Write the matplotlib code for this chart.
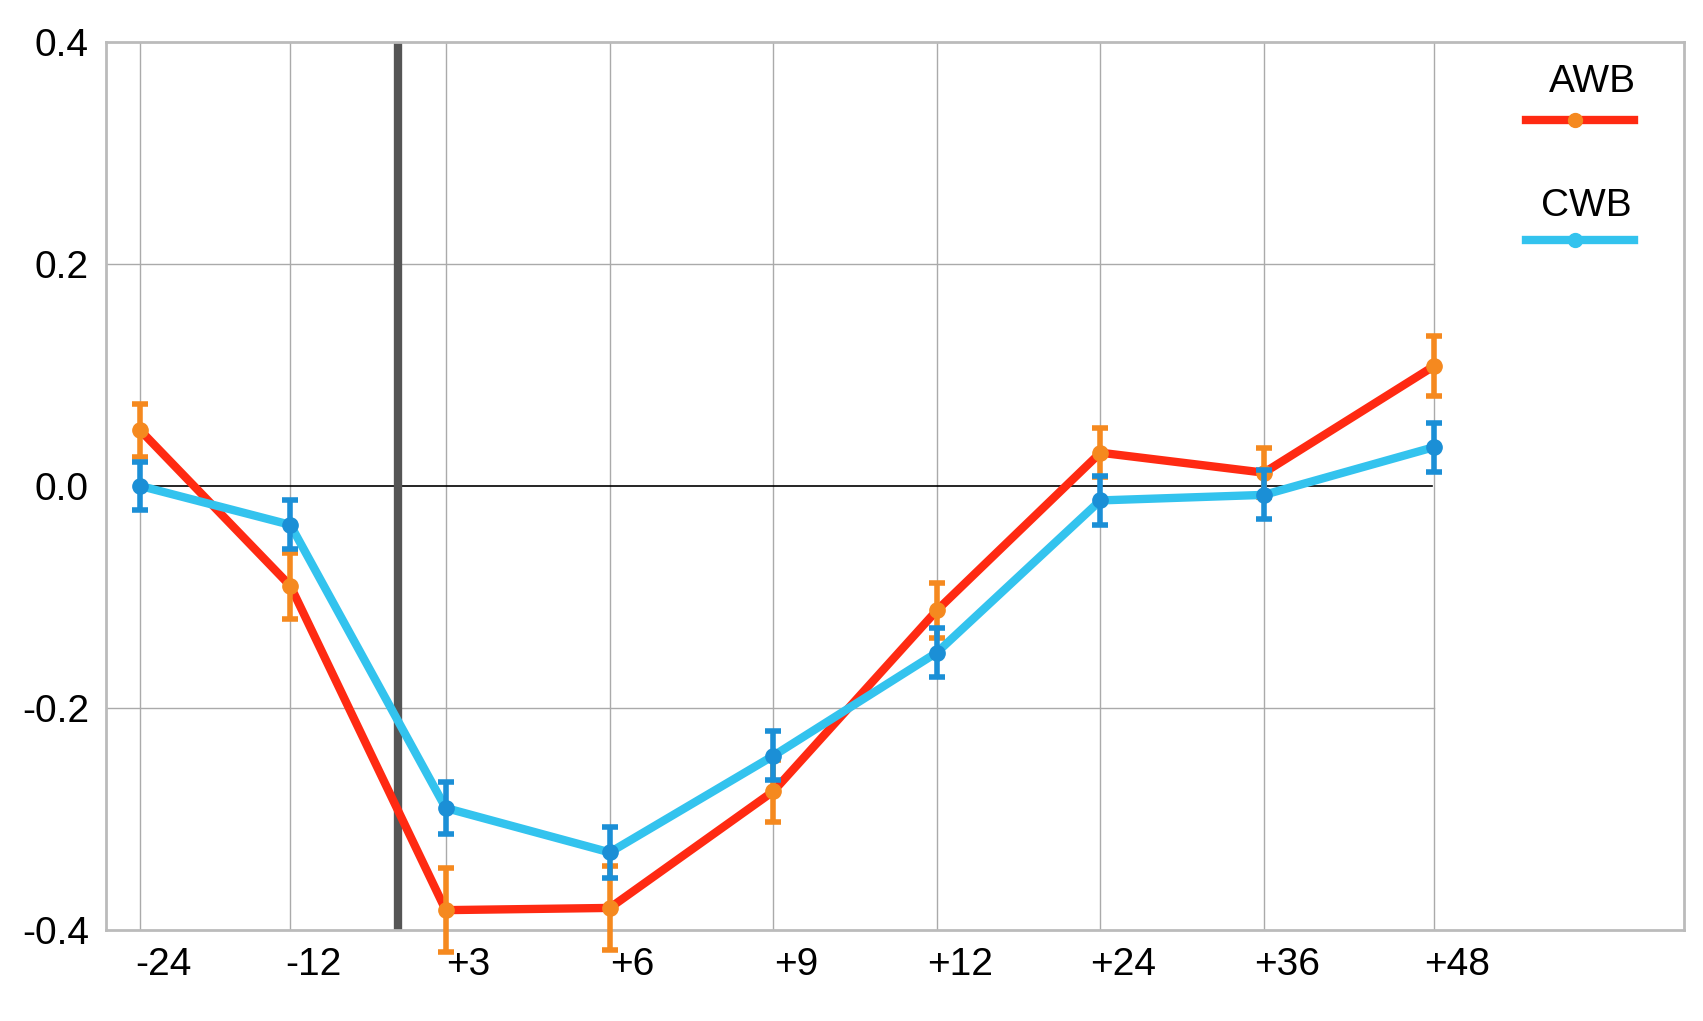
import matplotlib
matplotlib.use("Agg")
import matplotlib.pyplot as plt

plt.rcParams['font.family'] = ['Liberation Sans', 'DejaVu Sans']

labels = ["-24", "-12", "+3", "+6", "+9", "+12", "+24", "+36", "+48"]
awb = [0.05, -0.09, -0.382, -0.38, -0.275, -0.112, 0.03, 0.012, 0.108]
awb_err = [0.024, 0.03, 0.038, 0.038, 0.028, 0.025, 0.022, 0.022, 0.027]
cwb = [0.0, -0.035, -0.29, -0.33, -0.243, -0.15, -0.013, -0.008, 0.035]
cwb_err = [0.022, 0.022, 0.023, 0.023, 0.022, 0.022, 0.022, 0.022, 0.022]
xpos = [0, 0.917, 1.867, 2.87, 3.87, 4.87, 5.87, 6.87, 7.91]

fig = plt.figure(figsize=(17.03, 10.21), dpi=100)
ax = fig.add_axes([0.062, 0.089, 0.927, 0.87])
ax.set_xlim(-0.213, 9.44)
ax.set_ylim(-0.4, 0.4)
for x in xpos:
    ax.axvline(x, color="#aaaaaa", lw=1, zorder=0)
for y in [0.2, -0.2]:
    ax.plot([-0.213, 7.91], [y, y], color="#aaaaaa", lw=1, zorder=0)
ax.plot([0, 7.9], [0, 0], color="black", lw=1.2, zorder=1)
ax.plot([1.575, 1.575], [-0.4, 0.4], color="#555555", lw=6, zorder=1)

ax.plot(xpos, awb, color="#ff2a12", lw=6, zorder=3)
ax.errorbar(xpos, awb, yerr=awb_err, fmt="o", color="#f5891f", ms=11, elinewidth=4, capsize=6, capthick=4, zorder=4, clip_on=False)
ax.plot(xpos, cwb, color="#33c3ee", lw=6, zorder=5)
ax.errorbar(xpos, cwb, yerr=cwb_err, fmt="o", color="#1b8fd6", ms=11, elinewidth=4, capsize=6, capthick=4, zorder=6, clip_on=False)

ax.set_xticks([x + 0.14 for x in xpos])
ax.set_xticklabels(labels, fontsize=28)
ax.set_yticks([-0.4, -0.2, 0.0, 0.2, 0.4])
ax.set_yticklabels(["-0.4", "-0.2", "0.0", "0.2", "0.4"], fontsize=28)
ax.tick_params(length=0, pad=12)
for s in ax.spines.values():
    s.set_color("#bbbbbb"); s.set_linewidth(2)

# legend
ax.text(8.88, 0.355, "AWB", fontsize=28, ha="center")
ax.plot([8.47, 9.13], [0.33, 0.33], color="#ff2a12", lw=6)
ax.plot([8.77], [0.33], "o", color="#f5891f", ms=10)
ax.text(8.84, 0.243, "CWB", fontsize=28, ha="center")
ax.plot([8.47, 9.13], [0.222, 0.222], color="#33c3ee", lw=6)
ax.plot([8.77], [0.222], "o", color="#33c3ee", ms=10)

fig.savefig("out.png", dpi=100)
